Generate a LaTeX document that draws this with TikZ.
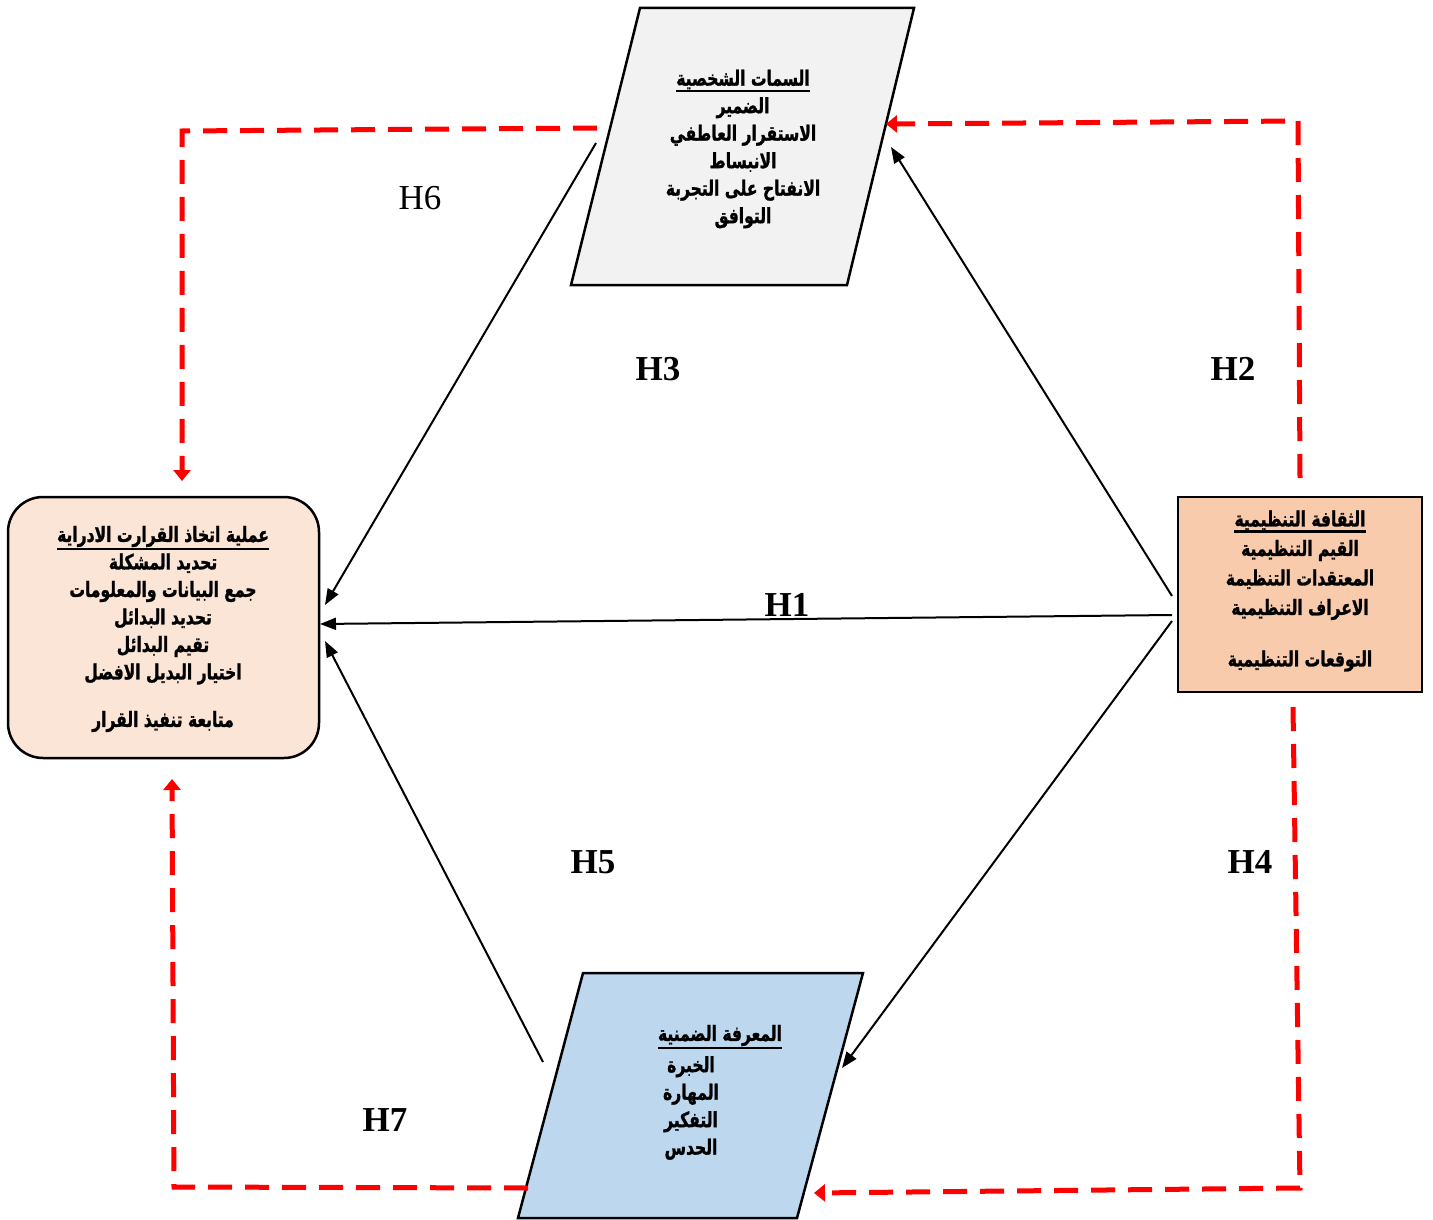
\documentclass[tikz,border=0pt]{standalone}
\usepackage{fontspec}
\setmainfont{Liberation Serif}
\newfontfamily\arabicfont[Script=Arabic, FakeStretch=0.74, FakeBold=1.2]{DejaVu Sans}
\TeXXeTstate=1
\usetikzlibrary{arrows.meta}

\definecolor{peachLight}{HTML}{FBE5D6}
\definecolor{peachDark}{HTML}{F8CBAD}
\definecolor{traitGray}{HTML}{F2F2F2}
\definecolor{knowBlue}{HTML}{BDD7EE}

\newcommand{\arline}[1]{\beginR#1\endR}
\newcommand{\arhead}[1]{\vtop{\hbox{\beginR#1\endR}\kern0.5pt\hrule height 2.5pt}}

\begin{document}
\begin{tikzpicture}[x=1pt, y=-1pt,
        box/.style={draw, line width=2.5pt, inner sep=0pt},
        para/.style={draw, line width=2.5pt, line join=miter},
        textblock/.style={font=\arabicfont\bfseries\fontsize{21}{27.5}\selectfont, align=center, inner sep=0pt},
        path_arrow/.style={line width=2pt, -{Triangle[length=16pt,width=12pt]}},
        med_arrow/.style={red, line width=5pt, dash pattern=on 24pt off 13pt, -{Triangle[length=11pt,width=17pt]}},
        hyp_label/.style={font=\fontsize{35}{40}\selectfont\bfseries}
    ]
        \useasboundingbox (0,0) rectangle (1433,1220);

        % Boxes: decision making (left) and organisational culture (right)
        \node[box, rounded corners=35pt, fill=peachLight, minimum width=311pt, minimum height=261pt] (decision_box) at (163.5,627.5) {};
        \node[box, fill=peachDark, minimum width=244pt, minimum height=195pt] (culture_box) at (1300,594.5) {};

        % Parallelograms: personality traits (top) and tacit knowledge (bottom)
        \coordinate (trait_tl) at (640,8);
        \coordinate (trait_tr) at (914,8);
        \coordinate (trait_br) at (847,285);
        \coordinate (trait_bl) at (571,285);
        \draw[para, fill=traitGray] (trait_tl) -- (trait_tr) -- (trait_br) -- (trait_bl) -- cycle;
        \coordinate (know_tl) at (583,973);
        \coordinate (know_tr) at (863,973);
        \coordinate (know_br) at (797,1218);
        \coordinate (know_bl) at (518,1218);
        \draw[para, fill=knowBlue] (know_tl) -- (know_tr) -- (know_br) -- (know_bl) -- cycle;

        % Texts
        \node[textblock] (trait_text) at (743,149) {\arhead{السمات الشخصية}\\ \arline{الضمير}\\ \arline{الاستقرار العاطفي}\\ \arline{الانبساط}\\ \arline{الانفتاح على التجربة}\\ \arline{التوافق}};
        \node[textblock, font=\arabicfont\bfseries\fontsize{21}{29.5}\selectfont] (culture_text) at (1300,591) {\arhead{الثقافة التنظيمية}\\ \arline{القيم التنظيمية}\\ \arline{المعتقدات التنظيمة}\\ \arline{الاعراف التنظيمية}\\[22pt] \arline{التوقعات التنظيمية}};
        \node[textblock] (decision_text) at (163,629) {\arhead{عملية اتخاذ القرارت الادراية}\\ \arline{تحديد المشكلة}\\ \arline{جمع البيانات والمعلومات}\\ \arline{تحديد البدائل}\\ \arline{تقيم البدائل}\\ \arline{اختيار البديل الافضل}\\[20pt] \arline{متابعة تنفيذ القرار}};
        \node[textblock] (know_title) at (720,1037) {\arhead{المعرفة الضمنية}};
        \node[textblock] (know_text) at (691,1108) {\arline{الخبرة}\\ \arline{المهارة}\\ \arline{التفكير}\\ \arline{الحدس}};

        % Arrow end points
        \coordinate (h3_start) at (596,143);
        \coordinate (h3_end) at (325,605);
        \coordinate (h2_start) at (1172,596);
        \coordinate (h2_end) at (891,147);
        \coordinate (h1_start) at (1172,615);
        \coordinate (h1_end) at (320,624);
        \coordinate (h4_start) at (1172,621);
        \coordinate (h4_end) at (842,1068);
        \coordinate (h5_start) at (543,1062);
        \coordinate (h5_end) at (325,641);

        % Direct paths
        \draw[path_arrow] (h3_start) -- (h3_end);
        \draw[path_arrow] (h2_start) -- (h2_end);
        \draw[path_arrow] (h1_start) -- (h1_end);
        \draw[path_arrow] (h4_start) -- (h4_end);
        \draw[path_arrow] (h5_start) -- (h5_end);

        % Mediated paths (red dashed)
        \coordinate (h6_start) at (597,128);
        \coordinate (h6_corner) at (182,131);
        \coordinate (h6_end) at (182,481);
        \draw[med_arrow] (h6_start) -- (h6_corner) -- (h6_end);
        \coordinate (h2r_start) at (1300,478);
        \coordinate (h2r_corner) at (1298,121);
        \coordinate (h2r_end) at (886,124);
        \draw[med_arrow] (h2r_start) -- (h2r_corner) -- (h2r_end);
        \coordinate (h4r_start) at (1293,707);
        \coordinate (h4r_corner) at (1300,1188);
        \coordinate (h4r_end) at (814,1193);
        \draw[med_arrow] (h4r_start) -- (h4r_corner) -- (h4r_end);
        \coordinate (h7_start) at (528,1188);
        \coordinate (h7_corner) at (174,1187);
        \coordinate (h7_end) at (172,779);
        \draw[med_arrow] (h7_start) -- (h7_corner) -- (h7_end);

        % Hypothesis labels
        \node[font=\fontsize{35}{40}\selectfont] (lab_h6) at (420,198) {H6};
        \node[hyp_label] (lab_h3) at (658,369) {H3};
        \node[hyp_label] (lab_h2) at (1233,369) {H2};
        \node[hyp_label] (lab_h1) at (787,605) {H1};
        \node[hyp_label] (lab_h5) at (593,862) {H5};
        \node[hyp_label] (lab_h4) at (1250,862) {H4};
        \node[hyp_label] (lab_h7) at (385,1120) {H7};

    \end{tikzpicture}
\end{document}
